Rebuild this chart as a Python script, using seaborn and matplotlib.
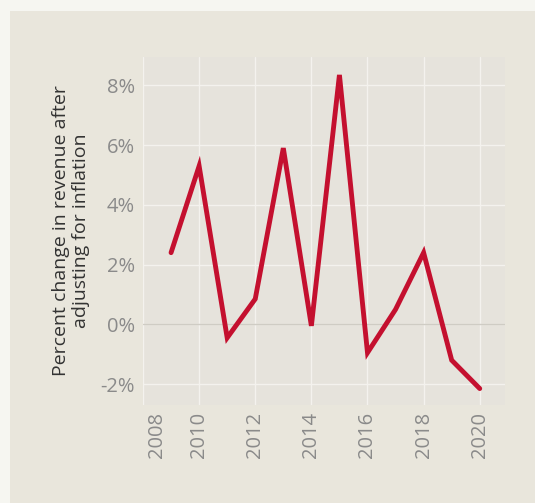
import seaborn as sns
import matplotlib.pyplot as plt
import matplotlib.patches as patches
import matplotlib.transforms as mtransforms
import pandas as pd

# values
years = [2009, 2010, 2011, 2012, 2013, 2014, 2015, 2016, 2017, 2018, 2019, 2020]
pct_change = [2.4, 5.3, -0.45, 0.85, 5.9, -0.05, 8.35, -0.95, 0.5, 2.4, -1.2, -2.15]
ytick_vals = [-2, 0, 2, 4, 6, 8]
xtick_vals = [2008, 2010, 2012, 2014, 2016, 2018, 2020]

df = pd.DataFrame({"year": years, "pct": pct_change})

sns.set_theme(style="whitegrid")
plt.rcParams['font.family'] = ['Open Sans', 'DejaVu Sans']

fig = plt.figure(figsize=(5.35, 5.03), dpi=100)
fig.patch.set_facecolor("#f6f6f1")
fig.patches.append(patches.Rectangle((10 / 535, 0), 1, 1 - 11 / 503, transform=fig.transFigure,
                                     facecolor="#e9e6dc", edgecolor="none", zorder=-10))

ax = fig.add_axes([143 / 535, 1 - 405 / 503, (505 - 143) / 535, (405 - 57) / 503])
ax.set_facecolor("#e6e3dc")

sns.lineplot(data=df, x="year", y="pct", color="#c4102f", linewidth=3.5, ax=ax,
             solid_capstyle="round", solid_joinstyle="miter")

ax.axhline(0, color="#cfccc4", linewidth=1, zorder=1)
ax.set_xlim(2008, 2020.9)
ax.set_ylim(-2.7, 8.95)
ax.set_yticks(ytick_vals)
ax.set_yticklabels([f"{v}%" for v in ytick_vals])
ax.set_xticks(xtick_vals)
ax.set_xticklabels([str(v) for v in xtick_vals], rotation=90)
ax.tick_params(axis="both", colors="#8a8a8a", labelsize=14.5, length=0)
ax.tick_params(axis="x", pad=5)
ax.tick_params(axis="y", pad=6)
ax.grid(True, color="#f4f2ee", linewidth=1)
for s in ax.spines.values():
    s.set_visible(False)

# first year label sits a bit inside the plot edge
lab0 = ax.get_xticklabels()[0]
lab0.set_transform(lab0.get_transform() + mtransforms.ScaledTranslation(14 / 100, 0, fig.dpi_scale_trans))

ax.set_xlabel("")
ax.set_ylabel("Percent change in revenue after\nadjusting for inflation", fontsize=14,
              color="#333333", labelpad=7, linespacing=1.15)

fig.savefig("out.png", dpi=100, facecolor=fig.get_facecolor())
